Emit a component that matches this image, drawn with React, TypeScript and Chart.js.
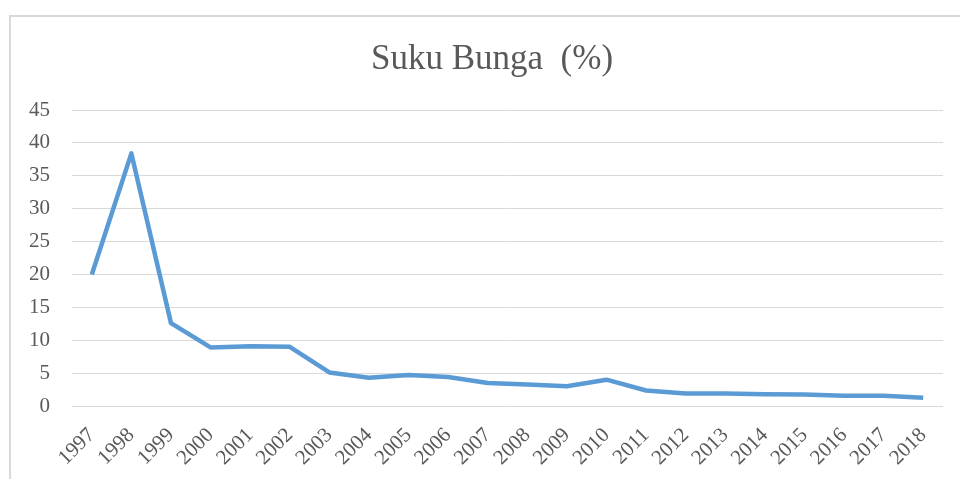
import React, { useEffect, useRef } from "react";
import { Chart, registerables } from "chart.js";

Chart.register(...registerables);

const years: string[] = [
  "1997", "1998", "1999", "2000", "2001", "2002", "2003", "2004", "2005", "2006", "2007",
  "2008", "2009", "2010", "2011", "2012", "2013", "2014", "2015", "2016", "2017", "2018",
];
const sukuBunga: number[] = [
  20, 38.4, 12.6, 8.9, 9.1, 9.0, 5.1, 4.3, 4.7, 4.4, 3.5,
  3.25, 3.0, 4.0, 2.35, 1.9, 1.9, 1.8, 1.75, 1.55, 1.55, 1.25,
];
const yTicks: number[] = [0, 5, 10, 15, 20, 25, 30, 35, 40, 45];
const chartTitle = "Suku Bunga  (%)";

const serif = "'Liberation Serif', 'Times New Roman', serif";

const frame = {
  id: "frame",
  beforeDraw(chart: any) {
    const ctx = chart.ctx;
    ctx.save();
    ctx.fillStyle = "#ffffff";
    ctx.fillRect(0, 0, chart.width, chart.height);
    ctx.strokeStyle = "#d9d9d9";
    ctx.lineWidth = 2;
    ctx.beginPath();
    ctx.moveTo(10, chart.height);
    ctx.lineTo(10, 16);
    ctx.lineTo(chart.width, 16);
    ctx.stroke();
    ctx.fillStyle = "#595959";
    ctx.font = `35px ${serif}`;
    ctx.textAlign = "center";
    ctx.textBaseline = "alphabetic";
    ctx.fillText(chartTitle, 492, 68.5);
    ctx.restore();
  },
};

export default function App() {
  const ref = useRef<HTMLCanvasElement | null>(null);
  useEffect(() => {
    if (!ref.current) return;
    const chart = new Chart(ref.current, {
      type: "line",
      data: {
        labels: years,
        datasets: [
          {
            label: chartTitle,
            data: sukuBunga,
            borderColor: "#5B9BD5",
            backgroundColor: "#5B9BD5",
            borderWidth: 4.5,
            pointRadius: 0,
            tension: 0,
            borderJoinStyle: "round",
            borderCapStyle: "butt",
          },
        ],
      },
      options: {
        animation: false,
        responsive: false,
        layout: { padding: { top: 110, left: 0, right: 17, bottom: 0 } },
        plugins: {
          legend: { display: false },
          tooltip: { enabled: false },
          title: { display: false },
        },
        scales: {
          x: {
            offset: true,
            grid: { display: false },
            border: { display: false },
            ticks: {
              color: "#595959",
              font: { family: serif, size: 21 },
              maxRotation: 45,
              minRotation: 45,
              autoSkip: false,
              padding: 9,
            },
            afterFit: (s: any) => {
              s.height = 73;
            },
          },
          y: {
            min: 0,
            max: 45,
            afterBuildTicks: (s: any) => {
              s.ticks = yTicks.map((v) => ({ value: v }));
            },
            grid: { color: "#d9d9d9", lineWidth: 1, drawTicks: false },
            border: { display: false },
            ticks: {
              color: "#595959",
              font: { family: serif, size: 21 },
              padding: 22,
            },
            afterFit: (s: any) => {
              s.width = 72;
            },
          },
        },
      },
      plugins: [frame],
    });
    return () => chart.destroy();
  }, []);
  return (
    <div style={{ position: "fixed", left: 0, top: 0, width: 960, height: 479, background: "#fff" }}>
      <canvas ref={ref} width={960} height={479} style={{ display: "block" }} />
    </div>
  );
}
